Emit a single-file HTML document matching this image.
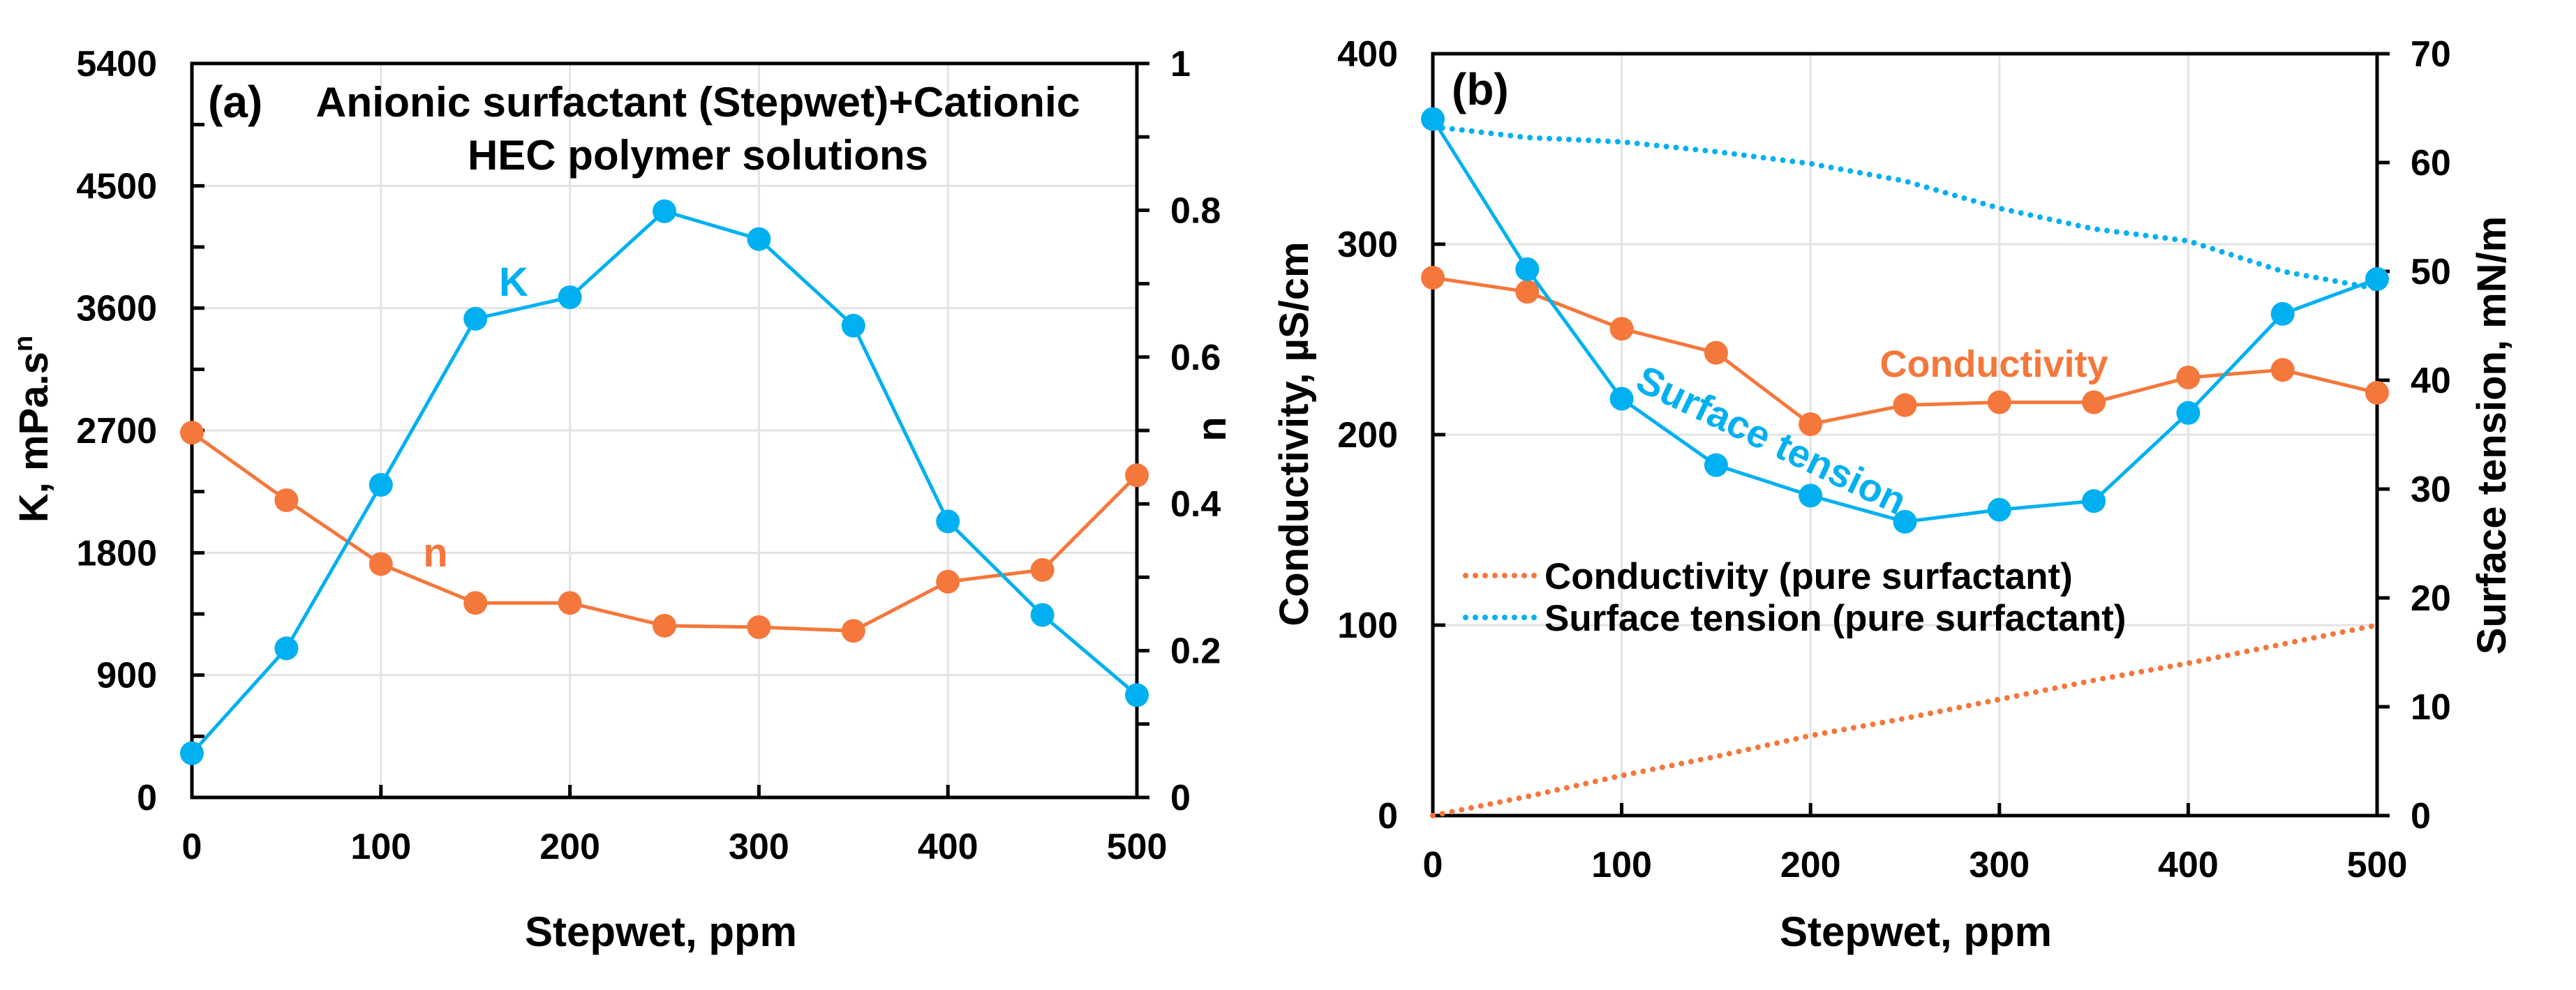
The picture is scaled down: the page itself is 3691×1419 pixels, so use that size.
<!DOCTYPE html>
<html><head><meta charset="utf-8"><style>
html,body{margin:0;padding:0;background:#fff;}
svg{display:block;font-family:"Liberation Sans",sans-serif;}
</style></head><body>
<svg id="fig" width="3691" height="1419" viewBox="0 0 3691 1419" xmlns="http://www.w3.org/2000/svg"></svg>
<script>
const xCats = [0,50,100,150,200,250,300,350,400,450,500];
const kValues = [325,1097,2300,3522,3680,4313,4108,3471,2031,1343,753];
const nValues = [0.497,0.405,0.318,0.265,0.265,0.234,0.232,0.227,0.294,0.310,0.439];
const condValues = [282.4,275,255.6,243,205.5,215.5,217,217,230,234,222];
const stValues = [64.0,50.2,38.3,32.2,29.4,27.0,28.1,28.9,37.0,46.1,49.3];
const condPure = [0,10,21,31,42,51,61,71,80,90,100];
const stPure = [63.3,62.3,61.9,61.0,59.9,58.3,55.8,53.9,52.8,50.0,48.4];
const xTicks = [0,100,200,300,400,500];
const kTicks = [0,900,1800,2700,3600,4500,5400];
const nTicks = [0,0.2,0.4,0.6,0.8,1];
const condTicks = [0,100,200,300,400];
const stTicks = [0,10,20,30,40,50,60,70];

const BLUE="#00B0F0", ORANGE="#F4773B";
const svg=document.getElementById('fig');
const NS="http://www.w3.org/2000/svg";
function el(tag,attrs,parent,text){const e=document.createElementNS(NS,tag);for(const k in attrs)e.setAttribute(k,attrs[k]);if(text!==undefined)e.textContent=text;(parent||svg).appendChild(e);return e;}

function panel(P){
  const g=el('g',{});
  
  
  const xs=v=>P.x0+(v-0)/500*(P.x1-P.x0);
  const yl=v=>P.y1-(v-P.lmin)/(P.lmax-P.lmin)*(P.y1-P.y0);
  const yr=v=>P.y1-(v-P.rmin)/(P.rmax-P.rmin)*(P.y1-P.y0);
  xTicks.forEach(t=>{if(t>0&&t<500){const l=el('line',{x1:xs(t),x2:xs(t),y1:P.y0,y2:P.y1,stroke:'#e3e3e3','stroke-width':3},g);}});
  P.lTicks.forEach(t=>{const y=yl(t);if(y>P.y0+2&&y<P.y1-2){const l=el('line',{x1:P.x0,x2:P.x1,y1:y,y2:y,stroke:'#e3e3e3','stroke-width':3},g);}});
  const fr=el('rect',{x:P.x0,y:P.y0,width:P.x1-P.x0,height:P.y1-P.y0,fill:'none',stroke:'#000','stroke-width':5},g);
  
  xTicks.forEach(t=>{el('line',{x1:xs(t),x2:xs(t),y1:P.y1,y2:P.y1-18,stroke:'#000','stroke-width':5},g);
    const tx=el('text',{x:xs(t),y:P.y1+88,'font-size':52,'font-weight':'bold','text-anchor':'middle'},g,String(t));
    });
  P.lTicks.forEach(t=>{const y=yl(t);el('line',{x1:P.x0,x2:P.x0+18,y1:y,y2:y,stroke:'#000','stroke-width':5},g);
    const tx=el('text',{x:P.x0-50,y:y+18,'font-size':52,'font-weight':'bold','text-anchor':'end'},g,String(t));
    });
  if(P.lMinor){for(let i=0;i<P.lTicks.length-1;i++){const y=yl((P.lTicks[i]+P.lTicks[i+1])/2);el('line',{x1:P.x0,x2:P.x0+18,y1:y,y2:y,stroke:'#000','stroke-width':5},g);}}
  P.rTicks.forEach(t=>{const y=yr(t);el('line',{x1:P.x1,x2:P.x1+18,y1:y,y2:y,stroke:'#000','stroke-width':5},g);
    const tx=el('text',{x:P.x1+48,y:y+18,'font-size':52,'font-weight':'bold','text-anchor':'start'},g,String(t));
    });
  if(P.rMinor){for(let i=0;i<P.rTicks.length-1;i++){const y=yr((P.rTicks[i]+P.rTicks[i+1])/2);el('line',{x1:P.x1,x2:P.x1+18,y1:y,y2:y,stroke:'#000','stroke-width':5},g);}}
  return {g,xs,yl,yr};
}
function series(g,xs,yf,vals,color,name,dotted,markers){
  const pts=vals.map((v,i)=>xs(xCats[i])+','+yf(v)).join(' ');
  const attrs={points:pts,fill:'none',stroke:color,'stroke-width':5,'stroke-linejoin':'round'};
  if(dotted){attrs['stroke-dasharray']='0 14';attrs['stroke-linecap']='round';attrs['stroke-width']=8;}
  const pl=el('polyline',attrs,g);
  
  if(markers){vals.forEach((v,i)=>{const c=el('circle',{cx:xs(xCats[i]),cy:yf(v),r:17,fill:color},g);
    });}
}
const A=panel({name:'panel-a',x0:275,x1:1629,y0:91,y1:1143,lmin:0,lmax:5400,rmin:0,rmax:1,lTicks:kTicks,rTicks:nTicks,lMinor:true,rMinor:true});
series(A.g,A.xs,A.yr,nValues,ORANGE,'n-series',false,true);
series(A.g,A.xs,A.yl,kValues,BLUE,'k-series',false,true);
const B=panel({name:'panel-b',x0:2053,x1:3406,y0:77,y1:1169,lmin:0,lmax:400,rmin:0,rmax:70,lTicks:condTicks,rTicks:stTicks,lMinor:false,rMinor:false});
series(B.g,B.xs,B.yl,condPure,ORANGE,'conductivity-pure',true,false);
series(B.g,B.xs,B.yr,stPure,BLUE,'surface-tension-pure',true,false);
series(B.g,B.xs,B.yl,condValues,ORANGE,'conductivity',false,true);
series(B.g,B.xs,B.yr,stValues,BLUE,'surface-tension',false,true);
</script>
<svg style="position:absolute;left:0;top:0" width="3691" height="1419" viewBox="0 0 3691 1419" xmlns="http://www.w3.org/2000/svg" font-family="Liberation Sans, sans-serif" font-weight="bold">
  <text x="298" y="168" font-size="64">(a)</text>
  <text x="1000" y="167" font-size="60" text-anchor="middle" textLength="1095" lengthAdjust="spacingAndGlyphs">Anionic surfactant (Stepwet)+Cationic</text>
  <text x="1000" y="243" font-size="60" text-anchor="middle">HEC polymer solutions</text>
  <text x="736" y="424" font-size="58" fill="#00B0F0" text-anchor="middle">K</text>
  <text x="624" y="812" font-size="58" fill="#F4773B" text-anchor="middle">n</text>
  <text x="947" y="1356" font-size="60" text-anchor="middle">Stepwet, ppm</text>
  <text transform="translate(68,615) rotate(-90)" font-size="58" text-anchor="middle">K, mPa.s<tspan font-size="38" dy="-22">n</tspan></text>
  <text transform="translate(1756,615) rotate(-90)" font-size="58" text-anchor="middle">n</text>

  <text x="2080" y="150" font-size="64">(b)</text>
  <text x="2857" y="540" font-size="54" fill="#F4773B" text-anchor="middle">Conductivity</text>
  <text transform="translate(2530,648) rotate(25.6)" font-size="56" fill="#00B0F0" text-anchor="middle">Surface tension</text>
  <line x1="2100" y1="825" x2="2200" y2="825" stroke="#F4773B" stroke-width="8" stroke-dasharray="0 14" stroke-linecap="round"/>
  <text x="2213" y="844" font-size="53" font-weight="600">Conductivity (pure surfactant)</text>
  <line x1="2100" y1="885" x2="2200" y2="885" stroke="#00B0F0" stroke-width="8" stroke-dasharray="0 14" stroke-linecap="round"/>
  <text x="2213" y="904" font-size="53" font-weight="600">Surface tension (pure surfactant)</text>
  <text x="2745" y="1356" font-size="60" text-anchor="middle">Stepwet, ppm</text>
  <text transform="translate(1874,622) rotate(-90)" font-size="58" text-anchor="middle">Conductivity, µS/cm</text>
  <text transform="translate(3590,624) rotate(-90)" font-size="58" text-anchor="middle">Surface tension, mN/m</text>
</svg>
</body></html>
